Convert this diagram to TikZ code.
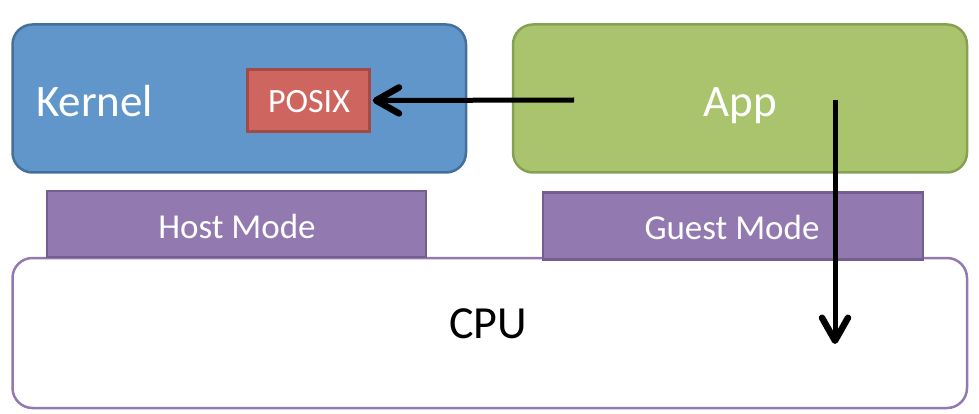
\documentclass[tikz,border=0pt]{standalone}
\usepackage{fontspec}
\setmainfont{Carlito}
\usetikzlibrary{arrows.meta}
\definecolor{kfill}{HTML}{6096C9}
\definecolor{kline}{HTML}{46709C}
\definecolor{afill}{HTML}{AAC46E}
\definecolor{aline}{HTML}{87A152}
\definecolor{pfill}{HTML}{CE665F}
\definecolor{pline}{HTML}{A24A46}
\definecolor{mfill}{HTML}{927AB1}
\definecolor{mline}{HTML}{735E8F}
\begin{document}
\begin{tikzpicture}[x=1pt,y=-1pt,
  bigbox/.style={rounded corners=20pt, line width=2.5pt, inner sep=0pt},
  modebox/.style={draw=mline, fill=mfill, line width=2.5pt, inner sep=0pt},
  lbl/.style={inner sep=0pt, anchor=base},
  arr/.style={line width=5pt, -{Straight Barb[length=23pt,width=26pt,line width=6.5pt,round]}}]
\useasboundingbox (0,0) rectangle (979,414);
% CPU
\node[bigbox, draw=mfill, fill=white, minimum width=954.5pt, minimum height=150pt] (cpu) at (489.75,333) {};
\node[lbl, font=\fontsize{46}{50}\selectfont, text=black] (cpul) at (488,338) {CPU};
% modes
\node[modebox, minimum width=379pt, minimum height=66pt] (host) at (236.5,224) {};
\node[lbl, font=\fontsize{35}{40}\selectfont, text=white] (hostl) at (237,238) {Host Mode};
\node[modebox, minimum width=380pt, minimum height=67pt] (guest) at (733,226) {};
\node[lbl, font=\fontsize{35}{40}\selectfont, text=white] (guestl) at (732,239.5) {Guest Mode};
% kernel
\node[bigbox, draw=kline, fill=kfill, minimum width=453.5pt, minimum height=148pt] (kernel) at (239.25,98.5) {};
\node[lbl, anchor=base west, font=\fontsize{45}{50}\selectfont, text=white] (kernell) at (36,117) {Kernel};
\node[draw=pline, fill=pfill, line width=2.5pt, inner sep=0pt, minimum width=122pt, minimum height=62pt] (posix) at (308.5,100.5) {};
\node[lbl, font=\fontsize{34}{38}\selectfont, text=white] (posixl) at (309,113) {POSIX};
% app
\node[bigbox, draw=aline, fill=afill, minimum width=454pt, minimum height=148pt] (app) at (740,98.5) {};
\node[lbl, font=\fontsize{45}{50}\selectfont, text=white] (appl) at (740,117) {App};
% arrows
\coordinate (hs) at (574,100);
\coordinate (vs) at (835,100);
\coordinate (ve) at (835,344);
\draw[arr] (hs) -- ([xshift=2pt]posix.east);
\draw[arr] (vs) -- (ve);
\end{tikzpicture}
\end{document}
